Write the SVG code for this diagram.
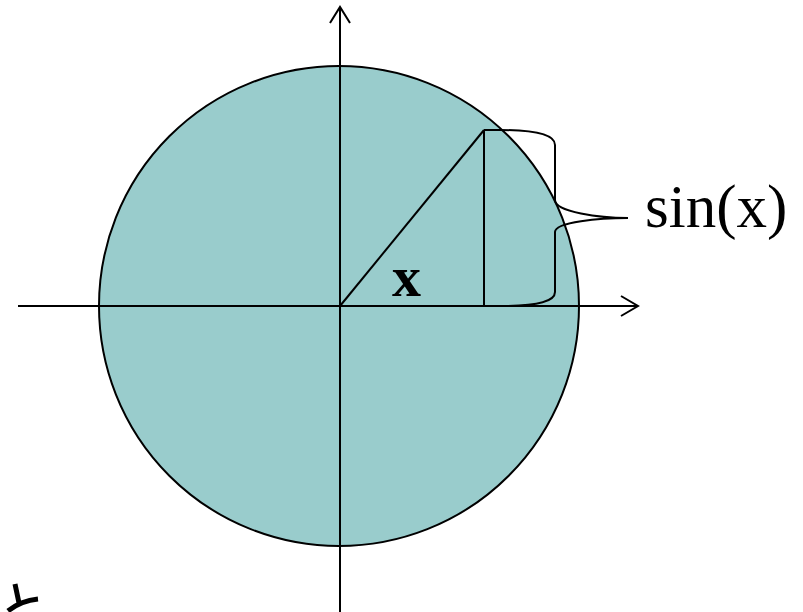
<svg xmlns="http://www.w3.org/2000/svg" width="803" height="612" viewBox="0 0 803 612">
<style>
.ln{fill:none;stroke:#000;stroke-width:2}
.t{font-family:"Liberation Serif","Times New Roman",serif;fill:#000}
</style>
<rect width="803" height="612" fill="#fff"/>
<g id="circle"><circle cx="339" cy="306" r="240" fill="#99cccc" stroke="#000" stroke-width="2"/></g>
<g id="connectors">
<line class="ln" x1="18" y1="306" x2="638" y2="306"/>
<polyline class="ln" points="621,296 638,306 621,316"/>
<line class="ln" x1="340" y1="612" x2="340" y2="7"/>
<polyline class="ln" points="330,23 340,7 350,23"/>
<line class="ln" x1="340" y1="306" x2="484" y2="130"/>
<line class="ln" x1="484" y1="130" x2="484" y2="306"/>
<path class="ln" d="M484,130 L500,130 C540,130 555,136 555,145 L555,200 C555,212 600,218 628,218 C600,218 555,222 555,232 L555,292 C555,301 540,306 500,306 L484,306"/>
</g>
<g id="labels">
<text class="t" x="645" y="227" font-size="61">sin(x)</text>
<text class="t" x="392" y="296" font-size="58" font-weight="bold">x</text>
</g>
<g id="mark"><path d="M15,584 L19,603 M8,611 C18,603 28,600 38,599" fill="none" stroke="#000" stroke-width="5"/></g>
</svg>
